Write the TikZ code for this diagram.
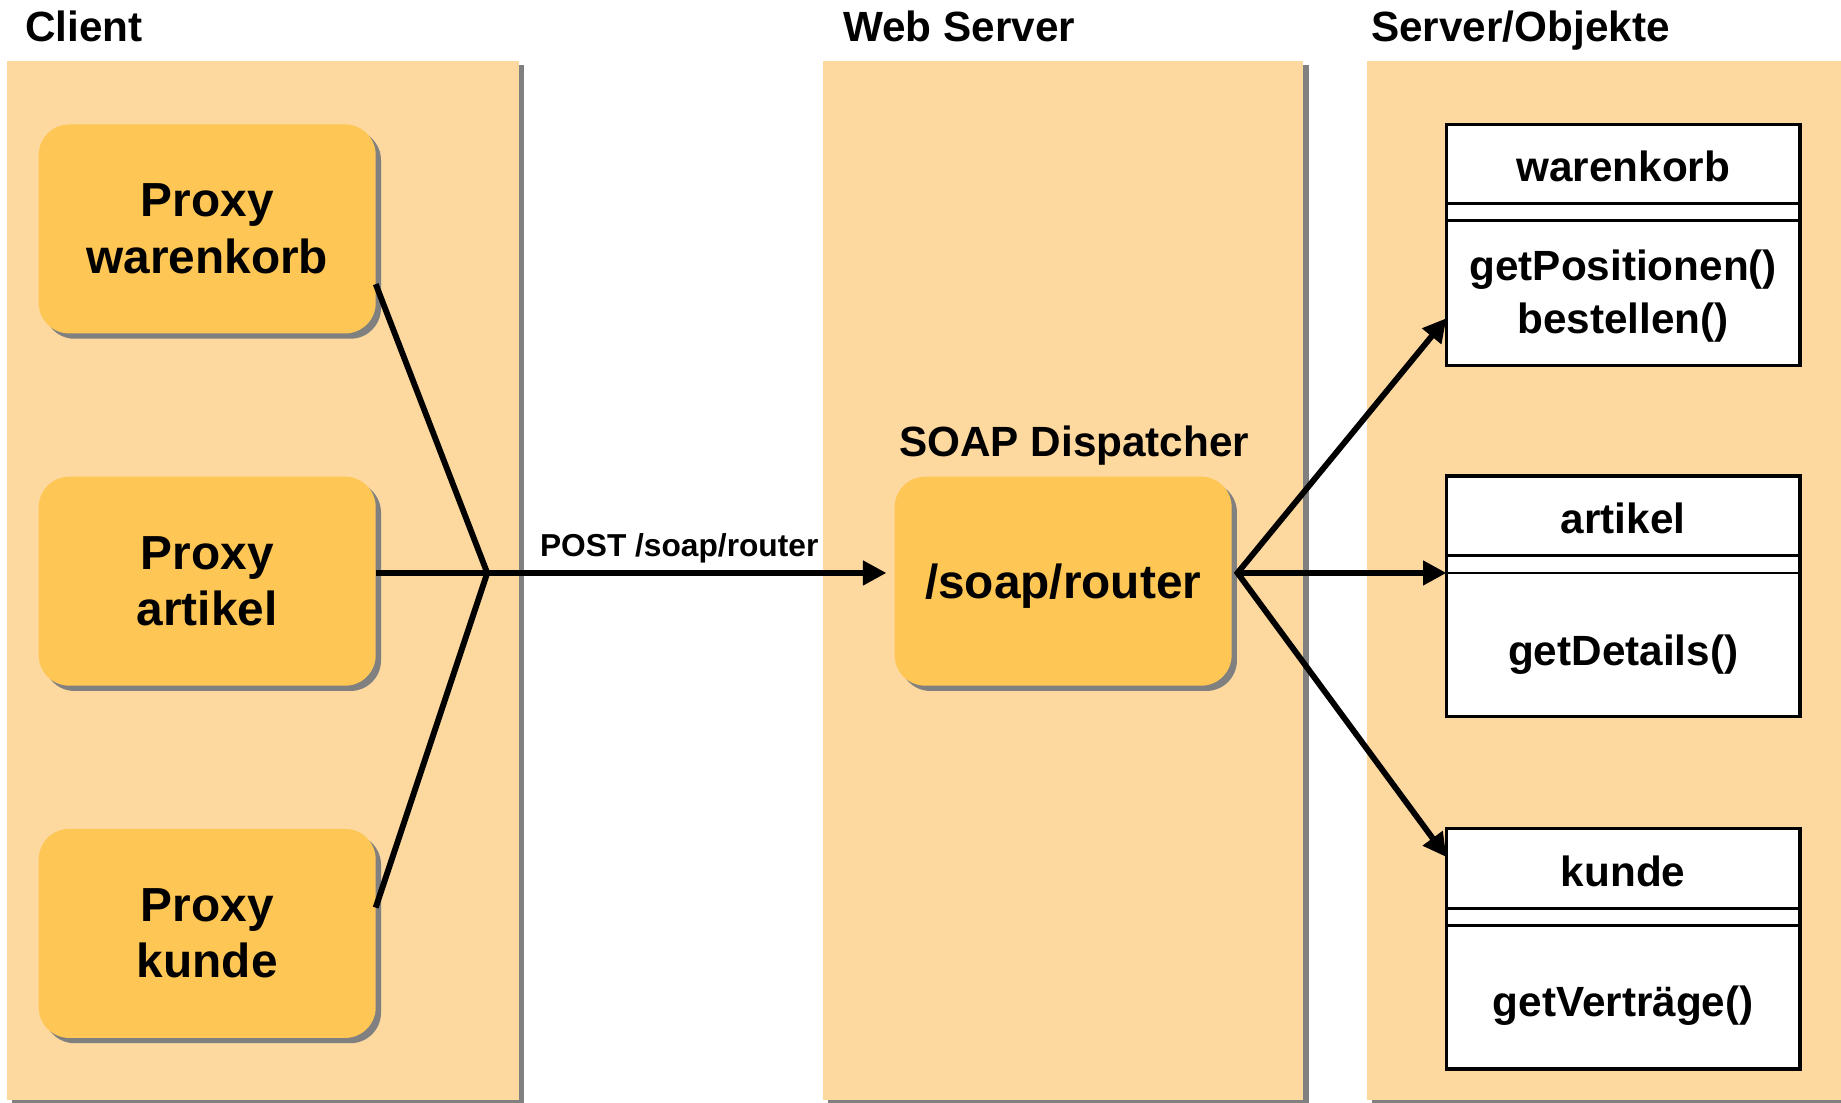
\documentclass[tikz,border=0pt]{standalone}
\usepackage{fontspec}
\setmainfont{Liberation Sans}
\usetikzlibrary{arrows.meta,shadows}
\definecolor{panelfill}{RGB}{253,216,159}
\definecolor{boxfill}{RGB}{254,198,84}
\definecolor{shadowgray}{RGB}{128,128,128}
\begin{document}
\begin{tikzpicture}[x=1pt,y=-1pt,
  titletext/.style={font=\fontsize{36}{43}\selectfont\bfseries, inner sep=0pt, anchor=base west},
  panel/.style={rectangle, fill=panelfill, inner sep=0pt, outer sep=0pt,
    drop shadow={shadow xshift=4.5pt, shadow yshift=-3.5pt, opacity=1, fill=shadowgray}},
  proxybox/.style={rectangle, rounded corners=26pt, fill=boxfill, minimum width=287pt,
    minimum height=178pt, align=center, inner sep=0pt, outer sep=0pt,
    font=\fontsize{40.7}{48}\selectfont\bfseries,
    drop shadow={shadow xshift=4.5pt, shadow yshift=-4.5pt, opacity=1, fill=shadowgray}},
  umlbox/.style={rectangle, draw=black, line width=2.8pt, fill=white,
    minimum width=301pt, minimum height=205pt, inner sep=0pt, outer sep=0pt},
  umlsep/.style={draw=black, line width=2.5pt},
  umltext/.style={font=\fontsize{36}{43}\selectfont\bfseries, inner sep=0pt, anchor=base},
  conn/.style={draw=black, line width=5pt, line join=miter},
  arr/.tip={Triangle[length=20pt,width=20pt]}
]
\useasboundingbox (0,0) rectangle (1568,938.6);

% panels
\node[panel, minimum width=436pt, minimum height=885pt] (clientpanel) at (224,494.5) {};
\node[panel, minimum width=409pt, minimum height=885pt] (webpanel) at (905.5,494.5) {};
\node[panel, minimum width=416pt, minimum height=885pt] (objpanel) at (1372,494.5) {};

% titles
\node[titletext] (tclient) at (21.2,35.5) {Client};
\node[titletext] (tweb) at (718,35.5) {Web Server};
\node[titletext] (tobj) at (1167.7,35.5) {Server/Objekte};

% proxies
\node[proxybox] (pw) at (176.5,195) {Proxy\\warenkorb};
\node[proxybox] (pa) at (176.5,495) {Proxy\\artikel};
\node[proxybox] (pk) at (176.5,795) {Proxy\\kunde};

% dispatcher
\node[umltext] (soaplbl) at (915,389) {SOAP Dispatcher};
\node[proxybox, text height=29.2pt, text depth=0pt] (router) at (905.5,495) {/soap/router};

% UML classes
\node[umlbox] (wk) at (1382.5,208.5) {};
\draw[umlsep] ([yshift=-67pt]wk.north west) -- ([yshift=-67pt]wk.north east);
\draw[umlsep] ([yshift=-82pt]wk.north west) -- ([yshift=-82pt]wk.north east);
\node[umltext] (wkname) at (1382.5,154.7) {warenkorb};
\node[umltext] (wkm1) at (1382.5,238.5) {getPositionen()};
\node[umltext] (wkm2) at (1382.5,284) {bestellen()};

\node[umlbox] (ar) at (1382.5,508) {};
\draw[umlsep] ([yshift=-68pt]ar.north west) -- ([yshift=-68pt]ar.north east);
\draw[umlsep] ([yshift=-82.5pt]ar.north west) -- ([yshift=-82.5pt]ar.north east);
\node[umltext] (arname) at (1382.5,454.7) {artikel};
\node[umltext] (arm1) at (1382.5,566.4) {getDetails()};

\node[umlbox] (ku) at (1382.5,808) {};
\draw[umlsep] ([yshift=-68.5pt]ku.north west) -- ([yshift=-68.5pt]ku.north east);
\draw[umlsep] ([yshift=-83pt]ku.north west) -- ([yshift=-83pt]ku.north east);
\node[umltext] (kuname) at (1382.5,754.7) {kunde};
\node[umltext] (kum1) at (1382.5,866) {getVerträge()};

% connector points
\coordinate (j) at (415,488);
\coordinate (pwport) at (320,242);
\coordinate (pkport) at (320,773);
\coordinate (posttip) at (755,488);
\coordinate (rj) at (1054,488);
\coordinate (wktip) at (1232,271);
\coordinate (artip) at (1232,488);
\coordinate (kutip) at (1232,730);

% connectors
\draw[conn] (pwport) -- (j) -- (pkport);
\draw[conn, -arr] (pa.east |- j) -- (posttip);
\node[font=\fontsize{27}{32}\selectfont\bfseries, inner sep=0pt, anchor=base] (postlbl) at (578.5,473.6) {POST /soap/router};
\draw[conn, arr-arr] (wktip) -- (rj) -- (kutip);
\draw[conn, -arr] (rj) -- (artip);
\end{tikzpicture}
\end{document}
